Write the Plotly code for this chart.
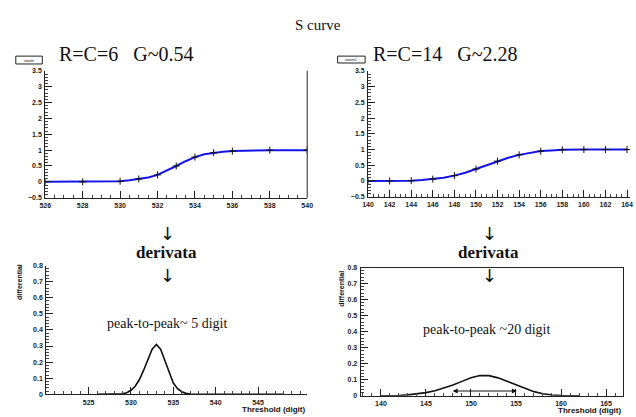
import plotly.graph_objects as go

# S-curve scan, R=C=6 channel
s1_threshold = [526, 527, 528, 529, 529.5, 530, 530.5, 531, 531.5, 532, 532.5, 533,
                533.5, 534, 534.5, 535, 535.5, 536, 537, 538, 539, 540]
s1_eff = [0, 0, 0, 0, 0.01, 0.02, 0.05, 0.09, 0.14, 0.22, 0.35, 0.50,
          0.65, 0.78, 0.87, 0.92, 0.95, 0.97, 0.99, 1.0, 1.0, 1.0]
s1_pts_x = [526, 528, 530, 531, 532, 533, 534, 535, 536, 538, 540]
s1_pts_y = [0, 0, 0.02, 0.09, 0.22, 0.50, 0.78, 0.92, 0.97, 1.0, 1.0]

# S-curve scan, R=C=14 channel
s2_threshold = [140, 142, 144, 145, 146, 147, 148, 149, 150, 151, 152, 153, 154,
                155, 156, 157, 158, 160, 162, 164]
s2_eff = [0, 0, 0.01, 0.03, 0.06, 0.10, 0.17, 0.26, 0.38, 0.50, 0.63, 0.74, 0.83,
          0.90, 0.95, 0.97, 0.99, 1.0, 1.0, 1.0]
s2_pts_x = [140, 142, 144, 146, 148, 150, 152, 154, 156, 158, 160, 162, 164]
s2_pts_y = [0, 0, 0.01, 0.06, 0.17, 0.38, 0.63, 0.83, 0.95, 0.99, 1.0, 1.0, 1.0]

# differential of the S curves
d1_threshold = [526, 527, 528, 529, 529.5, 530, 530.5, 531, 531.5, 532, 532.5, 533,
                533.5, 534, 534.5, 535, 535.5, 536, 536.5, 537, 538, 540, 542, 544, 546, 548]
d1_value = [0, 0, 0, 0.003, 0.01, 0.025, 0.05, 0.092, 0.15, 0.215, 0.28, 0.31,
            0.28, 0.21, 0.135, 0.07, 0.035, 0.016, 0.006, 0.002, 0, 0, 0, 0, 0, 0]

d2_threshold = [140, 141, 142, 143, 144, 145, 146, 147, 148, 149, 150, 151, 152,
                153, 154, 155, 156, 157, 158, 159, 160, 161, 162]
d2_value = [0, 0, 0.002, 0.006, 0.012, 0.02, 0.032, 0.048, 0.068, 0.09, 0.112, 0.127,
            0.126, 0.112, 0.09, 0.066, 0.044, 0.026, 0.013, 0.005, 0.002, 0, 0]

# labelled ticks of the differential panels
d1_ticks = [525, 530, 535, 540, 545]
d2_ticks = [140, 145, 150, 155, 160, 165]

# peak-to-peak marker on the wide distribution
p2p_start, p2p_end, p2p_level = 147.8, 155.1, 0.03

W, H = 636, 417


def px(x):
    return x / W


def py(y):
    return 1 - y / H


BLUE = "#1414e6"
INK = "#111111"
tickfont = dict(family="Liberation Sans", size=7, color="#222", weight="bold")

fig = go.Figure()

cross = dict(symbol="cross-thin-open", size=5, color=INK, line=dict(color=INK, width=1))

# top panels: S curves
fig.add_trace(go.Scatter(x=s1_threshold, y=s1_eff, mode="lines", line=dict(color=BLUE, width=2),
                         xaxis="x", yaxis="y", showlegend=False))
fig.add_trace(go.Scatter(x=s1_pts_x, y=s1_pts_y, mode="markers", marker=cross,
                         xaxis="x", yaxis="y", showlegend=False))
fig.add_trace(go.Scatter(x=s2_threshold, y=s2_eff, mode="lines", line=dict(color=BLUE, width=2),
                         xaxis="x2", yaxis="y2", showlegend=False))
fig.add_trace(go.Scatter(x=s2_pts_x, y=s2_pts_y, mode="markers", marker=cross,
                         xaxis="x2", yaxis="y2", showlegend=False))

# bottom panels: differentials
fig.add_trace(go.Scatter(x=d1_threshold, y=d1_value, mode="lines", line=dict(color=INK, width=1.6),
                         xaxis="x3", yaxis="y3", showlegend=False))
fig.add_trace(go.Scatter(x=d2_threshold, y=d2_value, mode="lines", line=dict(color=INK, width=1.6),
                         xaxis="x4", yaxis="y4", showlegend=False))


def axis(domain, rng, dtick, mdtick, anchor, mirror=False, tickvals=None):
    a = dict(domain=domain, range=rng, dtick=dtick, anchor=anchor,
             ticks="inside", ticklen=7, tickwidth=1, tickcolor="#222",
             minor=dict(dtick=mdtick, ticks="inside", ticklen=3, tickcolor="#444"),
             showline=True, linecolor="#222", linewidth=1, mirror=mirror,
             showgrid=False, zeroline=False, tickfont=tickfont, ticklabelstandoff=1)
    if tickvals is not None:
        a["tickmode"] = "array"
        a["tickvals"] = tickvals
    return a


fig.update_layout(
    width=W, height=H, margin=dict(l=0, r=0, t=0, b=0),
    paper_bgcolor="white", plot_bgcolor="white",
    xaxis=axis([px(40), px(307)], [526, 540], 2, 0.5, "y"),
    yaxis=axis([py(197), py(68)], [-0.5, 3.5], 0.5, 0.1, "x"),
    xaxis2=axis([px(369), 1.0], [140, 140 + (636 - 369) / 11.0], 2, 0.5, "y2"),
    yaxis2=axis([py(196), py(68)], [-0.5, 3.5], 0.5, 0.1, "x2"),
    xaxis3=axis([px(41), px(307)], [520, 550.8], 5, 1, "y3", tickvals=d1_ticks),
    yaxis3=axis([py(397), py(266)], [0, 0.8], 0.1, 0.02, "x3"),
    xaxis4=axis([px(361.5), px(629)], [137.75, 166.9], 5, 1, "y4", mirror=True, tickvals=d2_ticks),
    yaxis4=axis([py(398.5), py(268)], [0, 0.8], 0.1, 0.02, "x4", mirror=True),
)

shapes = [
    # right frame edge of the first S-curve panel
    dict(type="line", xref="x domain", yref="y domain", x0=1, x1=1, y0=0, y1=1,
         line=dict(color="#222", width=1)),
    # small legend boxes
    dict(type="rect", xref="paper", yref="paper", x0=px(10), x1=px(37), y0=py(61), y1=py(53),
         line=dict(color="#222", width=1), fillcolor="white"),
    dict(type="rect", xref="paper", yref="paper", x0=px(338), x1=px(366), y0=py(60), y1=py(53),
         line=dict(color="#222", width=1), fillcolor="white"),
]
fig.update_layout(shapes=shapes)

serif = "Liberation Serif"
ann = []


def text(x, y, s, size, family=serif, color=INK, weight="normal", angle=0, xanchor="center"):
    ann.append(dict(x=px(x), y=py(y), xref="paper", yref="paper", text=s, showarrow=False,
                    xanchor=xanchor, yanchor="middle", textangle=angle,
                    font=dict(family=family, size=size, color=color, weight=weight)))


sp = "\u00a0\u00a0\u00a0"
text(318, 21, "S curve", 15)
text(52, 51, "R=C=6" + sp + "G~0.54", 20, xanchor="left")
text(372, 51, "R=C=14" + sp + "G~2.28", 20, xanchor="left")
text(23.5, 57, "zoom", 4, family="Liberation Sans")
text(352, 56.5, "zoom1", 4, family="Liberation Sans")

for cx in (165, 493):
    text(cx, 233, "↓", 18, family="DejaVu Sans")
    text(cx - 1, 253, "derivata", 17, weight="bold")
    text(cx, 276, "↓", 18, family="DejaVu Sans")

text(164, 325, "peak-to-peak~ 5 digit", 14)
text(490, 331, "peak-to-peak ~20 digit", 14)

text(14, 283, "differential", 7, family="Liberation Sans", weight="bold", angle=-90)
text(342, 290, "differential", 7, family="Liberation Sans", weight="bold", angle=-90)
text(307, 412.5, "Threshold (digit)", 8, family="Liberation Sans", weight="bold", xanchor="right")
text(629, 413, "Threshold (digit)", 8, family="Liberation Sans", weight="bold", xanchor="right")

# double-headed arrow spanning the peak-to-peak width
ann.append(dict(x=p2p_end, y=p2p_level, ax=p2p_start, ay=p2p_level,
                xref="x4", yref="y4", axref="x4", ayref="y4",
                text="", showarrow=True, arrowside="end+start", arrowhead=2,
                arrowsize=1, arrowwidth=1, arrowcolor=INK))

fig.update_layout(annotations=ann)
fig.write_html("out.html")
